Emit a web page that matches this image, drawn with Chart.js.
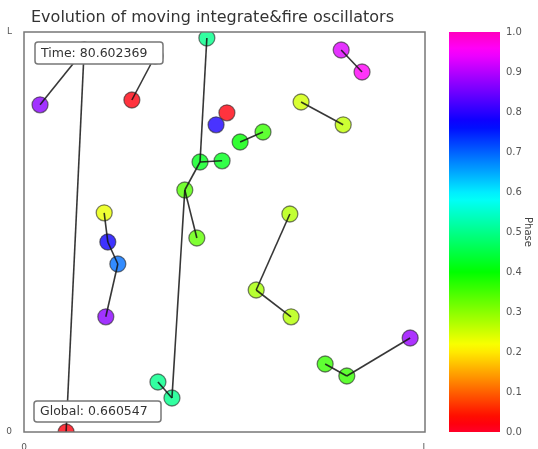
<!DOCTYPE html>
<html>
<head>
<meta charset="utf-8">
<script src="https://cdn.jsdelivr.net/npm/chart.js@4.4.1/dist/chart.umd.min.js"></script>
<style>
  body { margin: 0; background: #fff; }
  #wrap { position: relative; width: 538px; height: 449px; }
  #main { position: absolute; left: 0; top: 0; }
  #cbar { position: absolute; left: 440px; top: 0; }
</style>
</head>
<body>
<div id="wrap">
  <canvas id="main" width="440" height="449"></canvas>
  <canvas id="cbar" width="98" height="449"></canvas>
</div>
<script>
// oscillator positions (box side L = 1) and phases
var oscX = [0.150, 0.040, 0.105, 0.269, 0.327, 0.456, 0.439, 0.494, 0.401, 0.431,
            0.369, 0.334, 0.539, 0.596, 0.791, 0.843, 0.691, 0.796, 0.663, 0.579,
            0.666, 0.200, 0.209, 0.234, 0.204, 0.963, 0.805, 0.751, 0.506, 0.479];
var oscY = [0.955, 0.818, 0.000, 0.830, 0.940, 0.985, 0.675, 0.678, 0.605, 0.485,
            0.085, 0.125, 0.725, 0.750, 0.955, 0.900, 0.825, 0.768, 0.545, 0.355,
            0.288, 0.548, 0.475, 0.420, 0.288, 0.235, 0.140, 0.170, 0.798, 0.768];
var oscPhase = [0.05, 0.87, 0.02, 0.02, 0.03, 0.50, 0.42, 0.42, 0.34, 0.33,
                0.50, 0.50, 0.40, 0.36, 0.93, 0.96, 0.25, 0.26, 0.27, 0.28,
                0.27, 0.23, 0.78, 0.69, 0.87, 0.88, 0.36, 0.36, 0.02, 0.79];
// coupled neighbours (index pairs)
var links = [[0, 1], [0, 2], [3, 4], [5, 6], [6, 7], [6, 8], [8, 9], [8, 10], [10, 11],
             [12, 13], [14, 15], [16, 17], [18, 19], [19, 20], [21, 22], [22, 23], [23, 24],
             [25, 26], [26, 27]];
var axisTicks = {0: '0', 1: 'L'};
var phaseTicks = [0, 0.1, 0.2, 0.3, 0.4, 0.5, 0.6, 0.7, 0.8, 0.9, 1.0];
var timeText = 'Time: 80.602369';
var globalText = 'Global: 0.660547';

// matplotlib gist_rainbow
var cmStops = [0, 0.03, 0.215, 0.4, 0.586, 0.77, 0.954, 1];
var cmR = [1, 1, 1, 0, 0, 0, 1, 1];
var cmG = [0, 0, 1, 1, 1, 0, 0, 0];
var cmB = [0.16, 0, 0, 0, 1, 1, 1, 0.75];
function cmap(v, a) {
  var i = 0;
  while (i < cmStops.length - 2 && v > cmStops[i + 1]) i++;
  var t = (v - cmStops[i]) / (cmStops[i + 1] - cmStops[i]);
  var r = cmR[i] + (cmR[i + 1] - cmR[i]) * t;
  var g = cmG[i] + (cmG[i + 1] - cmG[i]) * t;
  var b = cmB[i] + (cmB[i + 1] - cmB[i]) * t;
  return 'rgba(' + Math.round(r * 255) + ',' + Math.round(g * 255) + ',' + Math.round(b * 255) + ',' + (a == null ? 1 : a) + ')';
}

var font = "'DejaVu Sans', sans-serif";
var datasets = [];
datasets.push({
  data: oscX.map(function(x, i) { return {x: x, y: oscY[i]}; }),
  backgroundColor: oscPhase.map(function(p) { return cmap(p, 0.8); }),
  borderColor: 'rgba(40,40,40,0.6)',
  borderWidth: 1.3,
  pointRadius: 8,
  order: 1,
  clip: 0
});
links.forEach(function(l) {
  datasets.push({
    data: [{x: oscX[l[0]], y: oscY[l[0]]}, {x: oscX[l[1]], y: oscY[l[1]]}],
    showLine: true,
    borderColor: 'rgba(20,20,20,0.85)',
    borderWidth: 1.6,
    pointRadius: 0,
    order: 0,
    clip: 0
  });
});

function drawBox(ctx, x, y, w, h, text) {
  ctx.save();
  ctx.beginPath();
  ctx.roundRect(x, y, w, h, 3);
  ctx.fillStyle = '#fff';
  ctx.fill();
  ctx.strokeStyle = '#777';
  ctx.lineWidth = 1.5;
  ctx.stroke();
  ctx.fillStyle = '#333';
  ctx.font = '12.5px ' + font;
  ctx.textBaseline = 'middle';
  ctx.fillText(text, x + 6, y + h / 2 + 0.5);
  ctx.restore();
}

var framePlugin = {
  id: 'frame',
  afterDatasetsDraw: function(chart) {
    var a = chart.chartArea, ctx = chart.ctx;
    ctx.save();
    ctx.strokeStyle = '#777';
    ctx.lineWidth = 1.5;
    ctx.strokeRect(a.left, a.top, a.right - a.left, a.bottom - a.top);
    ctx.restore();
    drawBox(ctx, a.left + 11, a.top + 10, 128, 22, timeText);
    drawBox(ctx, a.left + 10, a.bottom - 31, 127, 21, globalText);
  }
};

new Chart(document.getElementById('main'), {
  type: 'scatter',
  data: {datasets: datasets},
  plugins: [framePlugin],
  options: {
    responsive: false,
    animation: false,
    layout: {padding: {left: 0, right: 15, top: 0, bottom: 0}},
    plugins: {
      legend: {display: false},
      tooltip: {enabled: false},
      title: {
        display: true,
        text: 'Evolution of moving integrate&fire oscillators',
        color: '#333',
        font: {family: font, size: 16, weight: 'normal', lineHeight: 1.2},
        padding: {top: 8, bottom: 4.8}
      }
    },
    scales: {
      x: {
        type: 'linear', min: 0, max: 1,
        grid: {display: false},
        border: {display: false},
        ticks: {stepSize: 1, padding: 2, color: '#555', font: {family: font, size: 9},
                callback: function(v) { return axisTicks[v]; }},
        afterFit: function(s) { s.height = 17; }
      },
      y: {
        type: 'linear', min: 0, max: 1,
        grid: {display: false},
        border: {display: false},
        ticks: {stepSize: 1, padding: 4, color: '#555', font: {family: font, size: 9},
                callback: function(v) { return axisTicks[v]; }},
        afterFit: function(s) { s.width = 24; }
      }
    }
  }
});

// colour bar
new Chart(document.getElementById('cbar'), {
  type: 'bar',
  data: {
    labels: ['phase'],
    datasets: [{
      data: [[phaseTicks[0], phaseTicks[phaseTicks.length - 1]]],
      barPercentage: 1,
      categoryPercentage: 1,
      backgroundColor: function(c) {
        var a = c.chart.chartArea;
        if (!a) return '#888';
        var g = c.chart.ctx.createLinearGradient(0, a.bottom, 0, a.top);
        for (var i = 0; i <= 50; i++) g.addColorStop(i / 50, cmap(i / 50));
        return g;
      }
    }]
  },
  options: {
    responsive: false,
    animation: false,
    layout: {padding: {left: 9, right: 0, top: 32, bottom: 17}},
    plugins: {legend: {display: false}, tooltip: {enabled: false}},
    scales: {
      x: {display: false},
      y: {
        position: 'right', min: 0, max: 1,
        grid: {display: false, drawTicks: false},
        border: {display: false},
        ticks: {stepSize: 0.1, padding: 6, color: '#555', font: {family: font, size: 10},
                callback: function(v) { return v.toFixed(1); }},
        title: {display: true, text: 'Phase', color: '#444', font: {family: font, size: 10}, padding: {top: 4, bottom: 0}},
        afterFit: function(s) { s.width = 38; }
      }
    }
  }
});
</script>
</body>
</html>
